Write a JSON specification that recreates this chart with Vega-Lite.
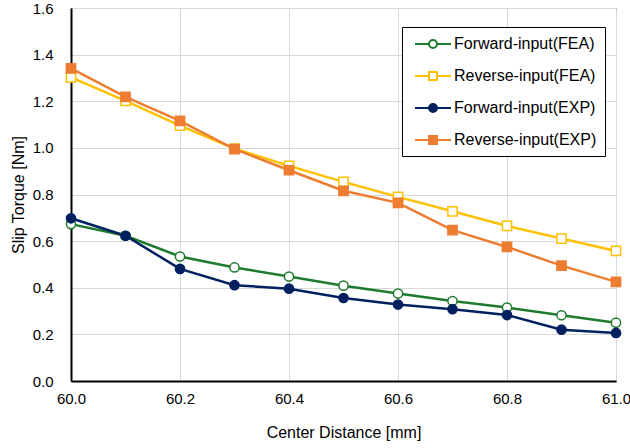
{
  "$schema": "https://vega.github.io/schema/vega-lite/v6.json",
  "width": 545,
  "height": 373,
  "autosize": {"type": "none"},
  "padding": {"left": 71, "top": 8, "right": 14, "bottom": 67},
  "background": "white",
  "config": {
    "font": "Liberation Sans",
    "view": {"stroke": "#000000", "strokeWidth": 1},
    "axis": {
      "labelFont": "Liberation Sans",
      "titleFont": "Liberation Sans",
      "labelFontSize": 15,
      "titleFontSize": 16,
      "titleFontWeight": "normal",
      "labelColor": "#000000",
      "titleColor": "#000000",
      "gridColor": "#d9d9d9",
      "gridWidth": 1,
      "domainColor": "#000000",
      "domainWidth": 2,
      "ticks": false,
      "labelFlush": false
    },
    "legend": {
      "labelFont": "Liberation Sans",
      "labelFontSize": 16,
      "labelColor": "#000000"
    }
  },
  "data": {
    "values": [
      {"x": 60.0, "y": 0.673, "series": "Forward-input(FEA)"},
      {"x": 60.1, "y": 0.623, "series": "Forward-input(FEA)"},
      {"x": 60.2, "y": 0.534, "series": "Forward-input(FEA)"},
      {"x": 60.3, "y": 0.487, "series": "Forward-input(FEA)"},
      {"x": 60.4, "y": 0.448, "series": "Forward-input(FEA)"},
      {"x": 60.5, "y": 0.409, "series": "Forward-input(FEA)"},
      {"x": 60.6, "y": 0.375, "series": "Forward-input(FEA)"},
      {"x": 60.7, "y": 0.343, "series": "Forward-input(FEA)"},
      {"x": 60.8, "y": 0.315, "series": "Forward-input(FEA)"},
      {"x": 60.9, "y": 0.282, "series": "Forward-input(FEA)"},
      {"x": 61.0, "y": 0.250, "series": "Forward-input(FEA)"},
      {"x": 60.0, "y": 1.302, "series": "Reverse-input(FEA)"},
      {"x": 60.1, "y": 1.202, "series": "Reverse-input(FEA)"},
      {"x": 60.2, "y": 1.095, "series": "Reverse-input(FEA)"},
      {"x": 60.3, "y": 0.997, "series": "Reverse-input(FEA)"},
      {"x": 60.4, "y": 0.923, "series": "Reverse-input(FEA)"},
      {"x": 60.5, "y": 0.854, "series": "Reverse-input(FEA)"},
      {"x": 60.6, "y": 0.790, "series": "Reverse-input(FEA)"},
      {"x": 60.7, "y": 0.728, "series": "Reverse-input(FEA)"},
      {"x": 60.8, "y": 0.665, "series": "Reverse-input(FEA)"},
      {"x": 60.9, "y": 0.611, "series": "Reverse-input(FEA)"},
      {"x": 61.0, "y": 0.558, "series": "Reverse-input(FEA)"},
      {"x": 60.0, "y": 0.698, "series": "Forward-input(EXP)"},
      {"x": 60.1, "y": 0.623, "series": "Forward-input(EXP)"},
      {"x": 60.2, "y": 0.481, "series": "Forward-input(EXP)"},
      {"x": 60.3, "y": 0.411, "series": "Forward-input(EXP)"},
      {"x": 60.4, "y": 0.396, "series": "Forward-input(EXP)"},
      {"x": 60.5, "y": 0.356, "series": "Forward-input(EXP)"},
      {"x": 60.6, "y": 0.328, "series": "Forward-input(EXP)"},
      {"x": 60.7, "y": 0.308, "series": "Forward-input(EXP)"},
      {"x": 60.8, "y": 0.283, "series": "Forward-input(EXP)"},
      {"x": 60.9, "y": 0.220, "series": "Forward-input(EXP)"},
      {"x": 61.0, "y": 0.206, "series": "Forward-input(EXP)"},
      {"x": 60.0, "y": 1.341, "series": "Reverse-input(EXP)"},
      {"x": 60.1, "y": 1.219, "series": "Reverse-input(EXP)"},
      {"x": 60.2, "y": 1.116, "series": "Reverse-input(EXP)"},
      {"x": 60.3, "y": 0.995, "series": "Reverse-input(EXP)"},
      {"x": 60.4, "y": 0.904, "series": "Reverse-input(EXP)"},
      {"x": 60.5, "y": 0.816, "series": "Reverse-input(EXP)"},
      {"x": 60.6, "y": 0.764, "series": "Reverse-input(EXP)"},
      {"x": 60.7, "y": 0.647, "series": "Reverse-input(EXP)"},
      {"x": 60.8, "y": 0.575, "series": "Reverse-input(EXP)"},
      {"x": 60.9, "y": 0.495, "series": "Reverse-input(EXP)"},
      {"x": 61.0, "y": 0.425, "series": "Reverse-input(EXP)"}
    ]
  },
  "encoding": {
    "x": {
      "field": "x",
      "type": "quantitative",
      "scale": {"domain": [60, 61], "nice": false, "zero": false},
      "axis": {
        "title": "Center Distance [mm]",
        "values": [60, 60.2, 60.4, 60.6, 60.8, 61],
        "format": ".1f",
        "labelPadding": 10,
        "titlePadding": 18
      }
    },
    "y": {
      "field": "y",
      "type": "quantitative",
      "scale": {"domain": [0, 1.6], "nice": false},
      "axis": {
        "title": "Slip Torque [Nm]",
        "values": [0, 0.2, 0.4, 0.6, 0.8, 1.0, 1.2, 1.4, 1.6],
        "format": ".1f",
        "labelPadding": 18,
        "titlePadding": 6
      }
    }
  },
  "layer": [
    {
      "mark": {"type": "line", "strokeWidth": 2.5},
      "encoding": {
        "color": {
          "field": "series",
          "type": "nominal",
          "scale": {
            "domain": ["Forward-input(FEA)", "Reverse-input(FEA)", "Forward-input(EXP)", "Reverse-input(EXP)"],
            "range": ["#1E7B2E", "#FFC000", "#002060", "#ED7D31"]
          },
          "legend": null
        }
      }
    },
    {
      "mark": {"type": "point", "size": 85, "strokeWidth": 1.5, "opacity": 1},
      "encoding": {
        "stroke": {
          "field": "series",
          "type": "nominal",
          "scale": {
            "domain": ["Forward-input(FEA)", "Reverse-input(FEA)", "Forward-input(EXP)", "Reverse-input(EXP)"],
            "range": ["#1E7B2E", "#FFC000", "#002060", "#ED7D31"]
          },
          "legend": null
        },
        "fill": {
          "field": "series",
          "type": "nominal",
          "scale": {
            "domain": ["Forward-input(FEA)", "Reverse-input(FEA)", "Forward-input(EXP)", "Reverse-input(EXP)"],
            "range": ["#ffffff", "#ffffff", "#002060", "#ED7D31"]
          },
          "legend": null
        },
        "shape": {
          "field": "series",
          "type": "nominal",
          "scale": {
            "domain": ["Forward-input(FEA)", "Reverse-input(FEA)", "Forward-input(EXP)", "Reverse-input(EXP)"],
            "range": ["circle", "square", "circle", "square"]
          },
          "legend": null
        }
      }
    },
    {
      "transform": [{"filter": "datum.x > 100"}],
      "mark": {"type": "point", "size": 256, "strokeWidth": 2, "opacity": 1},
      "encoding": {
        "stroke": {
          "field": "series",
          "type": "nominal",
          "scale": {
            "domain": ["Forward-input(FEA)", "Reverse-input(FEA)", "Forward-input(EXP)", "Reverse-input(EXP)"],
            "range": ["#1E7B2E", "#FFC000", "#002060", "#ED7D31"]
          },
          "legend": {"title": null, "orient": "none", "legendX": 331, "legendY": 19, "padding": 8, "symbolOffset": 14, "labelOffset": 12, "rowPadding": 15, "strokeColor": "#000000", "fillColor": "#ffffff", "symbolSize": 256, "symbolStrokeWidth": 2}
        },
        "fill": {
          "field": "series",
          "type": "nominal",
          "scale": {
            "domain": ["Forward-input(FEA)", "Reverse-input(FEA)", "Forward-input(EXP)", "Reverse-input(EXP)"],
            "range": ["#ffffff", "#ffffff", "#002060", "#ED7D31"]
          },
          "legend": {"title": null, "orient": "none", "legendX": 331, "legendY": 19, "padding": 8, "symbolOffset": 14, "labelOffset": 12, "rowPadding": 15, "strokeColor": "#000000", "fillColor": "#ffffff", "symbolSize": 256, "symbolStrokeWidth": 2}
        },
        "shape": {
          "field": "series",
          "type": "nominal",
          "scale": {
            "domain": ["Forward-input(FEA)", "Reverse-input(FEA)", "Forward-input(EXP)", "Reverse-input(EXP)"],
            "range": [
              "M-2.25,0L-0.5,0M0.5,0L2.25,0M-0.5,0A0.5,0.5,0,1,0,0.5,0A0.5,0.5,0,1,0,-0.5,0Z",
              "M-2.25,0L-0.5,0M0.5,0L2.25,0M-0.5,-0.5L0.5,-0.5L0.5,0.5L-0.5,0.5Z",
              "M-2.25,0L-0.5,0M0.5,0L2.25,0M-0.5,0A0.5,0.5,0,1,0,0.5,0A0.5,0.5,0,1,0,-0.5,0Z",
              "M-2.25,0L-0.5,0M0.5,0L2.25,0M-0.5,-0.5L0.5,-0.5L0.5,0.5L-0.5,0.5Z"
            ]
          },
          "legend": {"title": null, "orient": "none", "legendX": 331, "legendY": 19, "padding": 8, "symbolOffset": 14, "labelOffset": 12, "rowPadding": 15, "strokeColor": "#000000", "fillColor": "#ffffff", "symbolSize": 256, "symbolStrokeWidth": 2}
        }
      }
    }
  ],
  "resolve": {"scale": {"shape": "independent", "stroke": "independent", "fill": "independent"}}
}
